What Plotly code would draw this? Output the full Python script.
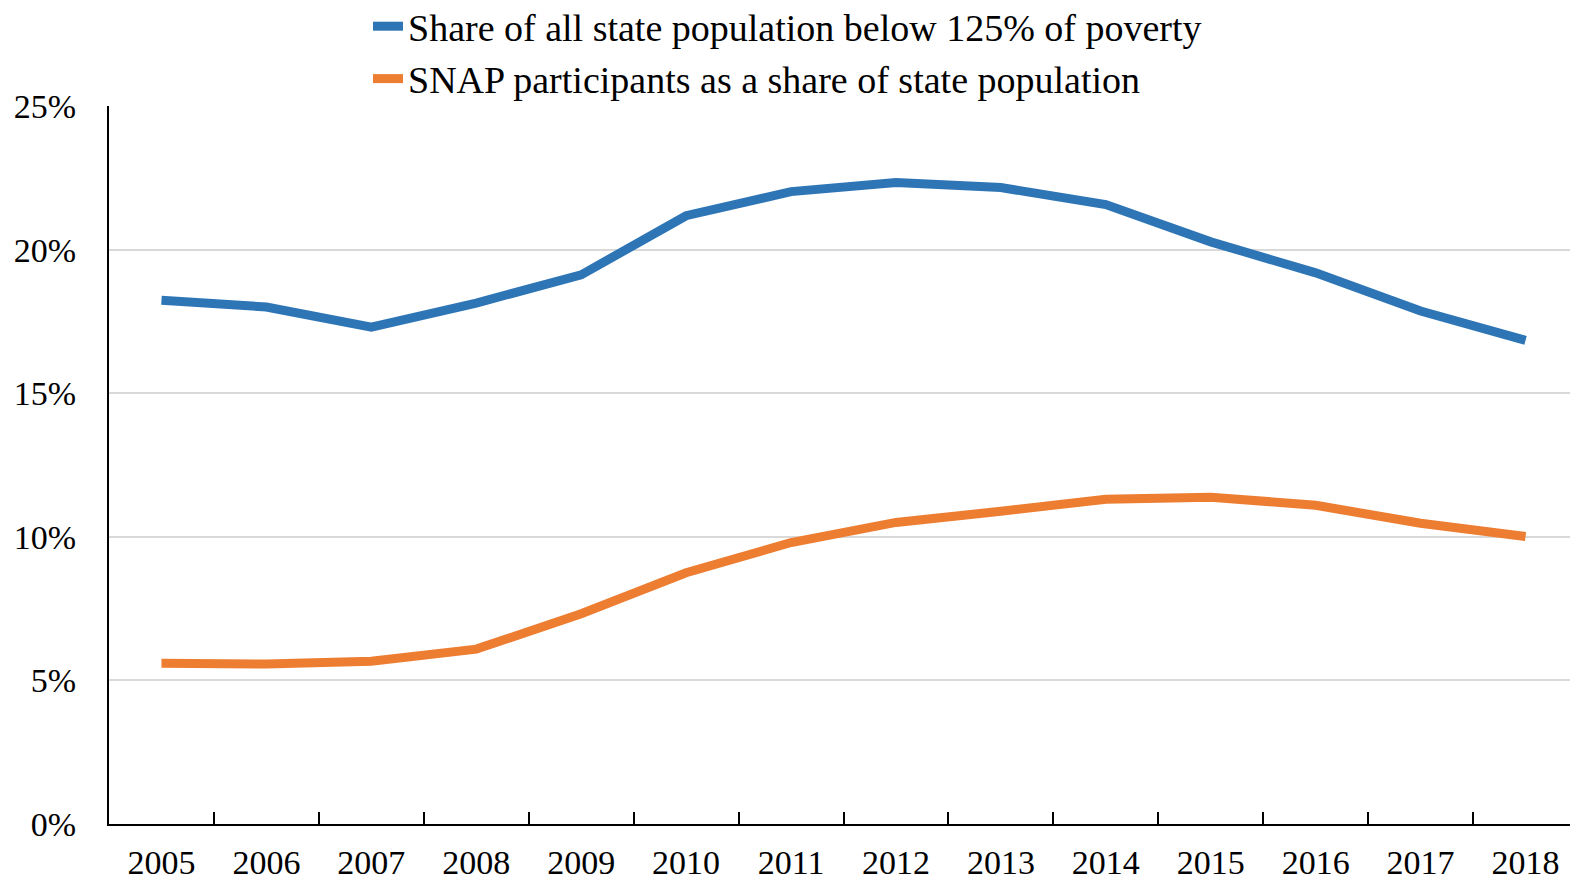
import plotly.graph_objects as go

years = [str(y) for y in range(2005, 2019)]
poverty_share = [18.24, 18.0, 17.3, 18.14, 19.12, 21.18, 22.02, 22.34, 22.16, 21.57, 20.27, 19.19, 17.86, 16.84]
snap_share = [5.60, 5.57, 5.67, 6.09, 7.32, 8.75, 9.80, 10.50, 10.89, 11.31, 11.38, 11.10, 10.47, 10.01]
y_ticks = [0, 5, 10, 15, 20, 25]

FONT = "Liberation Serif"
W, H = 1570, 874  # page body adds an 8px offset
PLOT_H = H - 98 - 58

fig = go.Figure()
fig.add_trace(go.Scatter(x=years, y=poverty_share, mode="lines",
                         name="Share of all state population below 125% of poverty",
                         line=dict(color="#2E75B6", width=9)))
fig.add_trace(go.Scatter(x=years, y=snap_share, mode="lines",
                         name="SNAP participants as a share of state population",
                         line=dict(color="#ED7D31", width=9)))

fig.update_layout(
    width=W, height=H,
    margin=dict(l=101, r=0, t=98, b=58, autoexpand=False),
    paper_bgcolor="white", plot_bgcolor="white",
    font=dict(family=FONT, size=34, color="black"),
    showlegend=True,
    legend=dict(orientation="v", x=360 / W, xanchor="left",
                y=1 + (98 + 13) / PLOT_H, yanchor="top",
                xref="container", yref="paper",
                font=dict(family=FONT, size=38, color="black"),
                itemwidth=30, tracegroupgap=0, bgcolor="rgba(0,0,0,0)"),
    xaxis=dict(type="category", range=[-0.5, 13.5], tickson="boundaries",
               ticks="inside", ticklen=12, tickwidth=2, tickcolor="black",
               showline=True, linecolor="black", linewidth=2,
               showgrid=False, ticklabelstandoff=7, tickangle=0,
               tickfont=dict(family=FONT, size=34)),
    yaxis=dict(range=[0, 25], tickvals=y_ticks, ticktext=[f"{v}%" for v in y_ticks],
               showline=True, linecolor="black", linewidth=2,
               showgrid=True, gridcolor="#d9d9d9", gridwidth=2,
               zeroline=False, ticks="", ticklabelstandoff=24,
               tickfont=dict(family=FONT, size=34)),
)
fig.write_html("out.html")
